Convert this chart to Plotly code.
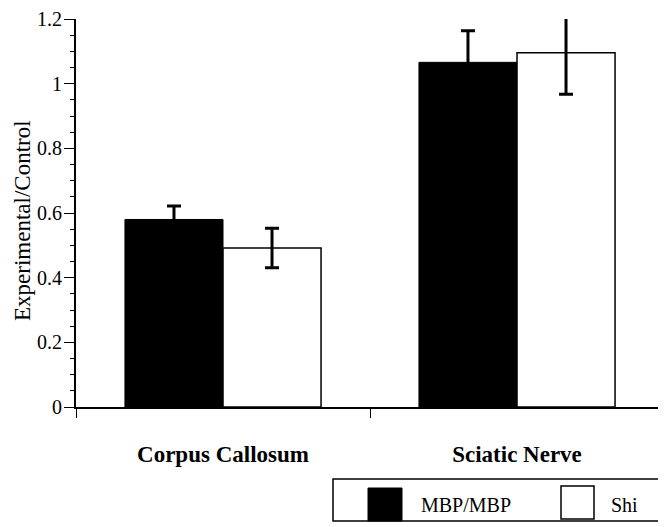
import plotly.graph_objects as go

categories = ["Corpus Callosum", "Sciatic Nerve"]
series_names = ["MBP/MBP", "Shi"]
mbp_values = [0.58, 1.066]
mbp_errors = [0.042, 0.098]
shi_values = [0.492, 1.096]
shi_errors = [0.061, 0.129]
y_ticks = [0, 0.2, 0.4, 0.6, 0.8, 1, 1.2]
y_title = "Experimental/Control"

FONT = "Liberation Serif"

fig = go.Figure()
fig.add_trace(go.Bar(
    x=categories, y=mbp_values, name=series_names[0],
    marker=dict(color="black", line=dict(color="black", width=1)),
    error_y=dict(type="data", array=mbp_errors, color="black", thickness=3, width=7),
    cliponaxis=False,
))
fig.add_trace(go.Bar(
    x=categories, y=shi_values, name=series_names[1],
    marker=dict(color="white", line=dict(color="black", width=1.5)),
    error_y=dict(type="data", array=shi_errors, color="black", thickness=3, width=7),
    cliponaxis=False,
))

# page offset (browser body margin)
OFF = 8
# plot area in screen pixels: x 76..664, y 19..407
L, R, T, B = 76, 664, 19, 407
W, H = R - L, B - T
def px(x):
    return (x - L) / W
def py(y):
    return (B - y) / H

shapes = [
    dict(type="rect", xref="paper", yref="paper", x0=px(333), x1=px(680), y0=py(521), y1=py(479),
         line=dict(color="black", width=1.5), fillcolor="rgba(0,0,0,0)"),
    dict(type="rect", xref="paper", yref="paper", x0=px(368), x1=px(402), y0=py(521), y1=py(488),
         line=dict(color="black", width=1), fillcolor="black"),
    dict(type="rect", xref="paper", yref="paper", x0=px(561), x1=px(594), y0=py(519), y1=py(486),
         line=dict(color="black", width=1.5), fillcolor="white"),
]
annotations = [
    dict(xref="paper", yref="paper", x=px(419), y=py(505), text=series_names[0], showarrow=False,
         xanchor="left", yanchor="middle", font=dict(family=FONT, size=20, color="black")),
    dict(xref="paper", yref="paper", x=px(609), y=py(505), text=series_names[1], showarrow=False,
         xanchor="left", yanchor="middle", font=dict(family=FONT, size=20, color="black")),
    dict(xref="paper", yref="paper", x=px(23), y=py(221), text=y_title, showarrow=False, textangle=-90,
         xanchor="center", yanchor="middle", font=dict(family=FONT, size=23, color="black")),
]

fig.update_layout(
    width=666, height=527,
    margin=dict(l=L - OFF, r=666 - (R - OFF), t=T - OFF, b=527 - (B - OFF), autoexpand=False),
    paper_bgcolor="white", plot_bgcolor="white",
    barmode="group", bargap=0.333, bargroupgap=0,
    showlegend=False,
    shapes=shapes, annotations=annotations,
    font=dict(family=FONT, color="black"),
    xaxis=dict(
        range=[-0.5, 1.5], showline=True, linecolor="black", linewidth=1.5,
        ticks="outside", tickson="boundaries", ticklen=9, tickwidth=1.2, tickcolor="black",
        tickfont=dict(family=FONT, size=23, color="black", weight="bold"),
        ticklabelstandoff=26, showgrid=False, zeroline=False, automargin=False,
    ),
    yaxis=dict(
        range=[0, 1.2], showline=True, linecolor="black", linewidth=2,
        tickvals=y_ticks, ticks="outside", ticklen=10, tickwidth=1, tickcolor="black",
        tickfont=dict(family=FONT, size=20, color="black"),
        ticklabeloverflow="allow", ticklabelstandoff=-2,
        minor=dict(dtick=0.05, ticks="outside", ticklen=4, tickcolor="black", tickwidth=1),
        showgrid=False, zeroline=False, automargin=False,
    ),
)

fig.write_html("out.html")
